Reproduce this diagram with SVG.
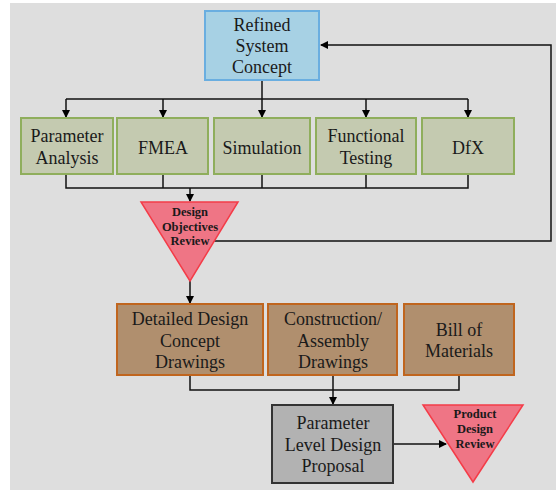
<svg xmlns="http://www.w3.org/2000/svg" width="556" height="490" viewBox="0 0 556 490">
<defs>
<marker id="ah" markerWidth="8" markerHeight="8" refX="7" refY="4" orient="auto" markerUnits="userSpaceOnUse">
<path d="M0,0 L8,4 L0,8 Z" fill="#000"/>
</marker>
<style>
.t{font-family:"Liberation Serif","Times New Roman",serif;font-size:18px;fill:#1a1a1a;text-anchor:middle}
.tb{font-family:"Liberation Serif","Times New Roman",serif;font-size:12.5px;font-weight:bold;fill:#1a1a1a;text-anchor:middle}
.blue{fill:#a7d1e4;stroke:#6aaee0;stroke-width:2}
.green{fill:#c4cab0;stroke:#8fae5c;stroke-width:2}
.brown{fill:#b08f6e;stroke:#c0651e;stroke-width:2}
.grey{fill:#b2b2b2;stroke:#333;stroke-width:2}
.tri{fill:#ef7585;stroke:#f43c48;stroke-width:1.5}
.c{fill:none;stroke:#111;stroke-width:1.5}
</style>
</defs>
<rect x="10" y="3" width="546" height="487" fill="#dedede"/>
<g id="connectors">
<path class="c" d="M262,80 V99"/>
<path class="c" d="M66,99 H468"/>
<path class="c" d="M66,99 V117" marker-end="url(#ah)"/>
<path class="c" d="M163,99 V117" marker-end="url(#ah)"/>
<path class="c" d="M262,99 V117" marker-end="url(#ah)"/>
<path class="c" d="M366,99 V117" marker-end="url(#ah)"/>
<path class="c" d="M468,99 V117" marker-end="url(#ah)"/>
<path class="c" d="M66,175 V188 H468 V175"/>
<path class="c" d="M163,175 V188"/>
<path class="c" d="M262,175 V188"/>
<path class="c" d="M366,175 V188"/>
<path class="c" d="M190,188 V201" marker-end="url(#ah)"/>
<path class="c" d="M210,241 H551 V45 H321" marker-end="url(#ah)"/>
<path class="c" d="M190,281 V303" marker-end="url(#ah)"/>
<path class="c" d="M190,375 V390 H459 V375"/>
<path class="c" d="M333,375 V404" marker-end="url(#ah)"/>
<path class="c" d="M393,444 H446" marker-end="url(#ah)"/>
</g>
<g id="refined">
<rect class="blue" x="205" y="11" width="114" height="69"/>
<text class="t" x="262" y="31">Refined</text>
<text class="t" x="262" y="52">System</text>
<text class="t" x="262" y="73">Concept</text>
</g>
<g id="param-analysis">
<rect class="green" x="21" y="118" width="92" height="56"/>
<text class="t" x="67" y="142">Parameter</text>
<text class="t" x="67" y="164">Analysis</text>
</g>
<g id="fmea">
<rect class="green" x="117" y="118" width="91" height="56"/>
<text class="t" x="163" y="154">FMEA</text>
</g>
<g id="simulation">
<rect class="green" x="214" y="118" width="96" height="56"/>
<text class="t" x="262" y="154">Simulation</text>
</g>
<g id="functional">
<rect class="green" x="316" y="118" width="100" height="56"/>
<text class="t" x="366" y="142">Functional</text>
<text class="t" x="366" y="164">Testing</text>
</g>
<g id="dfx">
<rect class="green" x="422" y="118" width="92" height="56"/>
<text class="t" x="468" y="154">DfX</text>
</g>
<g id="dor">
<polygon class="tri" points="141,202 238,202 190,281"/>
<text class="tb" x="190" y="216">Design</text>
<text class="tb" x="190" y="231">Objectives</text>
<text class="tb" x="190" y="245">Review</text>
</g>
<g id="detailed">
<rect class="brown" x="117" y="304" width="146" height="71"/>
<text class="t" x="190" y="325">Detailed Design</text>
<text class="t" x="190" y="347">Concept</text>
<text class="t" x="190" y="368">Drawings</text>
</g>
<g id="construction">
<rect class="brown" x="268" y="304" width="129" height="71"/>
<text class="t" x="333" y="325">Construction/</text>
<text class="t" x="333" y="347">Assembly</text>
<text class="t" x="333" y="368">Drawings</text>
</g>
<g id="bom">
<rect class="brown" x="404" y="304" width="110" height="71"/>
<text class="t" x="459" y="336">Bill of</text>
<text class="t" x="459" y="357">Materials</text>
</g>
<g id="pldp">
<rect class="grey" x="272" y="405" width="121" height="78"/>
<text class="t" x="333" y="429">Parameter</text>
<text class="t" x="333" y="451">Level Design</text>
<text class="t" x="333" y="472">Proposal</text>
</g>
<g id="pdr">
<polygon class="tri" points="423,405 523,405 473,482"/>
<text class="tb" x="475" y="418">Product</text>
<text class="tb" x="475" y="433">Design</text>
<text class="tb" x="475" y="448">Review</text>
</g>
</svg>
